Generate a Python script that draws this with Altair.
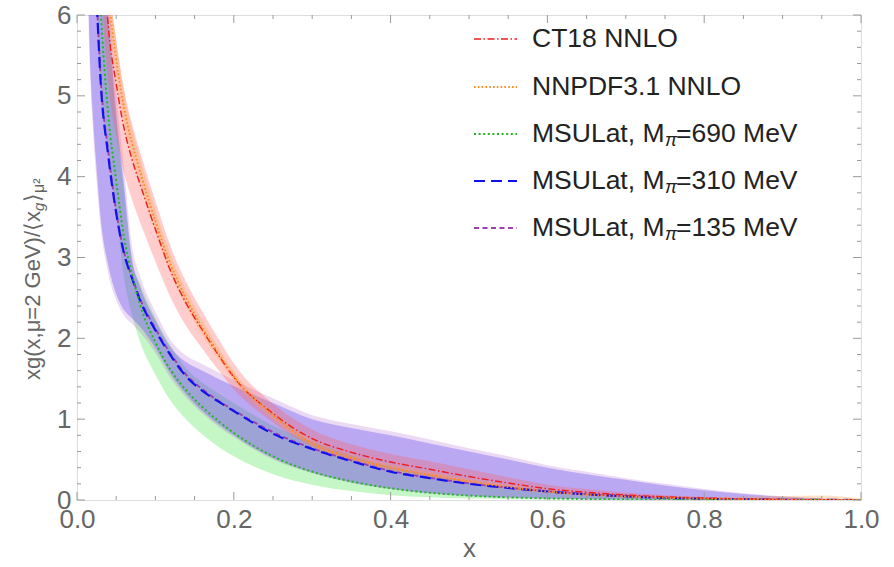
import altair as alt
import pandas as pd

# momentum fraction grid shared by every curve and band
xs = [0.01, 0.015, 0.02, 0.025, 0.03, 0.04, 0.05, 0.06, 0.07, 0.08,
      0.10, 0.12, 0.14, 0.16, 0.18, 0.20, 0.25, 0.30, 0.35, 0.40,
      0.45, 0.50, 0.55, 0.60, 0.65, 0.70, 0.75, 0.80, 0.85, 0.90, 0.95, 1.00]

ct18_mid = [20, 13.5, 10.5, 8.6, 7.4, 5.85, 5.15, 4.6, 4.22, 3.92, 3.35, 2.82, 2.42, 2.1, 1.8, 1.52,
            1.07, 0.76, 0.59, 0.47, 0.38, 0.29, 0.21, 0.14, 0.095, 0.062, 0.04, 0.025, 0.014, 0.007, 0.002, 0.0]
ct18_lo = [17.6, 11.9, 9.2, 7.6, 6.5, 5.15, 4.5, 4.05, 3.72, 3.45, 2.95, 2.49, 2.14, 1.87, 1.61, 1.37,
           0.96, 0.66, 0.5, 0.38, 0.29, 0.21, 0.145, 0.092, 0.06, 0.038, 0.023, 0.013, 0.007, 0.003, 0.001, 0.0]
ct18_hi = [22.2, 15.0, 11.7, 9.6, 8.2, 6.5, 5.7, 5.08, 4.66, 4.32, 3.7, 3.12, 2.68, 2.33, 2.0, 1.69,
           1.19, 0.87, 0.69, 0.57, 0.48, 0.38, 0.28, 0.19, 0.135, 0.09, 0.06, 0.038, 0.022, 0.011, 0.004, 0.0]

nnpdf_mid = [22, 15, 11.5, 9.3, 7.9, 6.3, 5.45, 4.85, 4.42, 4.08, 3.45, 2.9, 2.48, 2.13, 1.82, 1.53,
             1.05, 0.7, 0.52, 0.4, 0.31, 0.23, 0.16, 0.105, 0.068, 0.044, 0.028, 0.017, 0.01, 0.005, 0.002, 0.0]
nnpdf_lo = [21, 14.4, 11.0, 8.9, 7.6, 6.05, 5.23, 4.66, 4.24, 3.92, 3.31, 2.78, 2.38, 2.04, 1.75, 1.47,
            1.0, 0.66, 0.48, 0.36, 0.27, 0.2, 0.13, 0.085, 0.053, 0.032, 0.019, 0.01, 0.005, 0.002, 0.0, 0.0]
nnpdf_hi = [23, 15.6, 12.0, 9.7, 8.2, 6.55, 5.67, 5.04, 4.6, 4.24, 3.59, 3.02, 2.58, 2.22, 1.89, 1.59,
            1.1, 0.74, 0.56, 0.44, 0.35, 0.26, 0.19, 0.13, 0.085, 0.058, 0.042, 0.036, 0.04, 0.05, 0.055, 0.02]

m690_mid = [15, 10.8, 8.5, 7.1, 6.1, 4.75, 3.95, 3.25, 2.8, 2.43, 1.95, 1.6, 1.35, 1.15, 0.98, 0.83,
            0.54, 0.35, 0.23, 0.145, 0.09, 0.055, 0.033, 0.02, 0.012, 0.007, 0.004, 0.002, 0.001, 0.0005, 0.0002, 0.0]
m690_lo = [12, 9.0, 7.3, 6.2, 5.2, 4.3, 3.55, 2.75, 2.3, 1.97, 1.55, 1.22, 0.99, 0.81, 0.66, 0.54,
           0.32, 0.19, 0.11, 0.06, 0.033, 0.018, 0.01, 0.005, 0.003, 0.001, 0.0, 0.0, 0.0, 0.0, 0.0, 0.0]
m690_hi = [15.5, 11.5, 9.6, 8.3, 6.9, 5.9, 4.7, 3.8, 2.95, 2.68, 2.25, 1.9, 1.62, 1.45, 1.32, 1.2,
           0.92, 0.72, 0.55, 0.41, 0.31, 0.23, 0.17, 0.12, 0.08, 0.05, 0.03, 0.017, 0.008, 0.003, 0.001, 0.0]

m310_mid = [12, 9.0, 7.3, 6.2, 5.2, 4.25, 3.55, 3.05, 2.75, 2.48, 2.1, 1.78, 1.52, 1.35, 1.22, 1.1,
            0.82, 0.63, 0.48, 0.35, 0.27, 0.2, 0.15, 0.105, 0.07, 0.045, 0.027, 0.015, 0.008, 0.003, 0.001, 0.0]
m310_lo = [9, 6.0, 4.8, 4.1, 3.5, 2.9, 2.55, 2.35, 2.25, 2.15, 1.88, 1.55, 1.3, 1.1, 0.94, 0.8,
           0.52, 0.34, 0.22, 0.14, 0.085, 0.05, 0.03, 0.018, 0.01, 0.006, 0.003, 0.001, 0.0, 0.0, 0.0, 0.0]
m310_hi = [16, 12, 10, 8.5, 7.0, 6.0, 4.8, 3.9, 3.0, 2.65, 2.22, 1.88, 1.7, 1.6, 1.5, 1.41,
           1.2, 1.0, 0.89, 0.8, 0.7, 0.6, 0.5, 0.4, 0.32, 0.25, 0.18, 0.12, 0.075, 0.04, 0.017, 0.0]

m135_mid = [12.2, 9.1, 7.4, 6.25, 5.25, 4.3, 3.57, 3.07, 2.76, 2.5, 2.12, 1.8, 1.54, 1.37, 1.23, 1.11,
            0.84, 0.64, 0.49, 0.36, 0.275, 0.205, 0.152, 0.108, 0.073, 0.047, 0.028, 0.016, 0.008, 0.003, 0.001, 0.0]
m135_lo = [8.7, 5.8, 4.65, 3.95, 3.4, 2.8, 2.47, 2.28, 2.18, 2.08, 1.82, 1.5, 1.26, 1.07, 0.91, 0.78,
           0.5, 0.33, 0.21, 0.135, 0.08, 0.048, 0.028, 0.017, 0.009, 0.005, 0.002, 0.001, 0.0, 0.0, 0.0, 0.0]
m135_hi = [16.8, 12.6, 10.5, 8.9, 7.35, 6.3, 5.05, 4.1, 3.15, 2.78, 2.33, 1.97, 1.78, 1.68, 1.58, 1.48,
           1.26, 1.05, 0.94, 0.85, 0.75, 0.64, 0.54, 0.43, 0.35, 0.27, 0.2, 0.135, 0.085, 0.045, 0.02, 0.0]

x_ticks = [0.0, 0.2, 0.4, 0.6, 0.8, 1.0]
y_ticks = [0, 1, 2, 3, 4, 5, 6]

W, H = 784, 485
FONT = "Liberation Sans"
FRAME = "#9a9a9a"
LABEL = "#666666"

x_scale = alt.Scale(domain=[0, 1], nice=False, zero=False)
y_scale = alt.Scale(domain=[0, 6], nice=False, zero=False)

# (name, subscript, trailing text, mid, lo, hi, line colour, fill colour, fill opacity, dash, width)
series = [
    ("CT18 NNLO", None, None, ct18_mid, ct18_lo, ct18_hi, "#ee1c1c", "#ff5a5a", 0.30, [7, 2.5, 1.5, 2.5], 1.4),
    ("NNPDF3.1 NNLO", None, None, nnpdf_mid, nnpdf_lo, nnpdf_hi, "#ff8a1a", "#ffa040", 0.30, [1.6, 2.2], 1.9),
    ("MSULat, M", "π", "=690 MeV", m690_mid, m690_lo, m690_hi, "#22b422", "#40e040", 0.30, [2, 2.6], 1.9),
    ("MSULat, M", "π", "=310 MeV", m310_mid, m310_lo, m310_hi, "#1010f0", "#5050ff", 0.36, [11, 6], 2.2),
    ("MSULat, M", "π", "=135 MeV", m135_mid, m135_lo, m135_hi, "#9c3fb0", "#a850c8", 0.22, [5, 3.5], 1.9),
]

band_layers = []
line_layers = []
for name, sub, tail, mid, lo, hi, lc, fc, fo, dash, sw in series:
    bdf = pd.DataFrame({"x": xs, "lo": lo, "hi": hi})
    band_layers.append(
        alt.Chart(bdf).mark_area(clip=True, interpolate="monotone", color=fc, opacity=fo)
        .encode(x=alt.X("x:Q", scale=x_scale), y=alt.Y("lo:Q", scale=y_scale), y2="hi:Q")
    )
    ldf = pd.DataFrame({"x": xs, "v": mid})
    line_layers.append(
        alt.Chart(ldf).mark_line(clip=True, interpolate="monotone", color=lc,
                                 strokeDash=dash, strokeWidth=sw)
        .encode(x=alt.X("x:Q", scale=x_scale), y=alt.Y("v:Q", scale=y_scale))
    )

# lattice bands first, then the global fits; lines on top
band_order = [2, 3, 4, 0, 1]
line_order = [4, 3, 2, 0, 1]

base = alt.Chart(pd.DataFrame({"x": x_ticks})).mark_point(opacity=0).encode(
    x=alt.X("x:Q", scale=x_scale,
            axis=alt.Axis(values=x_ticks, format=".1f", title="x", labelFlush=False,
                          ticks=False, domain=False, grid=False, labelPadding=6,
                          labelFontSize=26, labelColor=LABEL, labelFont=FONT,
                          titleFontSize=26, titleColor=LABEL, titleFont=FONT,
                          titleFontWeight="normal", titlePadding=3)),
    y=alt.Y("y:Q", scale=y_scale,
            axis=alt.Axis(values=y_ticks, format="d", title="", ticks=False, domain=False,
                          grid=False, labelPadding=6, labelFontSize=26,
                          labelColor=LABEL, labelFont=FONT)),
).transform_calculate(y="0")

# inward frame ticks on all four sides
x_major = pd.DataFrame({"t": x_ticks})
x_minor = pd.DataFrame({"t": [i * 0.05 for i in range(1, 20) if i % 4 != 0]})
y_major = pd.DataFrame({"t": y_ticks})
y_minor = pd.DataFrame({"t": [i * 0.2 for i in range(1, 30) if i % 5 != 0]})


def xtick(df, length, top):
    y0 = 0 if top else H
    y1 = length if top else H - length
    return alt.Chart(df).mark_rule(color=FRAME, strokeWidth=1).encode(
        x=alt.X("t:Q", scale=x_scale), y=alt.value(y0), y2=alt.value(y1))


def ytick(df, length, right):
    x0 = W if right else 0
    x1 = W - length if right else length
    return alt.Chart(df).mark_rule(color=FRAME, strokeWidth=1).encode(
        y=alt.Y("t:Q", scale=y_scale), x=alt.value(x0), x2=alt.value(x1))


tick_layers = [
    xtick(x_major, 8, False), xtick(x_minor, 4, False),
    xtick(x_major, 8, True), xtick(x_minor, 4, True),
    ytick(y_major, 8, False), ytick(y_minor, 4, False),
    ytick(y_major, 8, True), ytick(y_minor, 4, True),
]


def label(text, x, y, size, color, angle=0, italic=False):
    kw = dict(align="left", baseline="middle", fontSize=size, color=color, font=FONT)
    if angle:
        kw["angle"] = angle
    if italic:
        kw["fontStyle"] = "italic"
    return alt.Chart(pd.DataFrame({"s": [text]})).mark_text(**kw).encode(
        text="s:N", x=alt.value(x), y=alt.value(y))


# legend in the upper right of the frame
LEG = 26.5
legend_layers = []
row_y = [24, 72, 119, 166, 213]
for (name, sub, tail, mid, lo, hi, lc, fc, fo, dash, sw), ry in zip(series, row_y):
    legend_layers.append(
        alt.Chart(pd.DataFrame({"k": [0]})).mark_rule(color=lc, strokeDash=dash, strokeWidth=sw)
        .encode(x=alt.value(397), x2=alt.value(440), y=alt.value(ry))
    )
    legend_layers.append(label(name, 455, ry, LEG, "#222222"))
    if sub:
        legend_layers.append(label(sub, 588, ry + 7, 18, "#222222", italic=True))
        legend_layers.append(label(tail, 599, ry, LEG, "#222222"))

# rotated y-axis title assembled from pieces for the subscripts
ytitle = [
    label("xg(x,μ=2 GeV)/⟨x", -44, 365, 22, LABEL, angle=270),
    label("g", -38, 196, 15, LABEL, angle=270, italic=True),
    label("⟩", -44, 187, 22, LABEL, angle=270),
    label("μ²", -38, 178, 16, LABEL, angle=270),
]

layers = ([base] + [band_layers[i] for i in band_order] + [line_layers[i] for i in line_order]
          + tick_layers + legend_layers + ytitle)

chart = alt.layer(*layers).properties(
    width=W, height=H, autosize="none",
    padding={"left": 77, "top": 15, "right": 33, "bottom": 67},
    background="white",
).configure_view(stroke=FRAME, strokeWidth=1.3).configure(font=FONT)

chart.save("out.html", embed_options={"renderer": "svg", "actions": False})
